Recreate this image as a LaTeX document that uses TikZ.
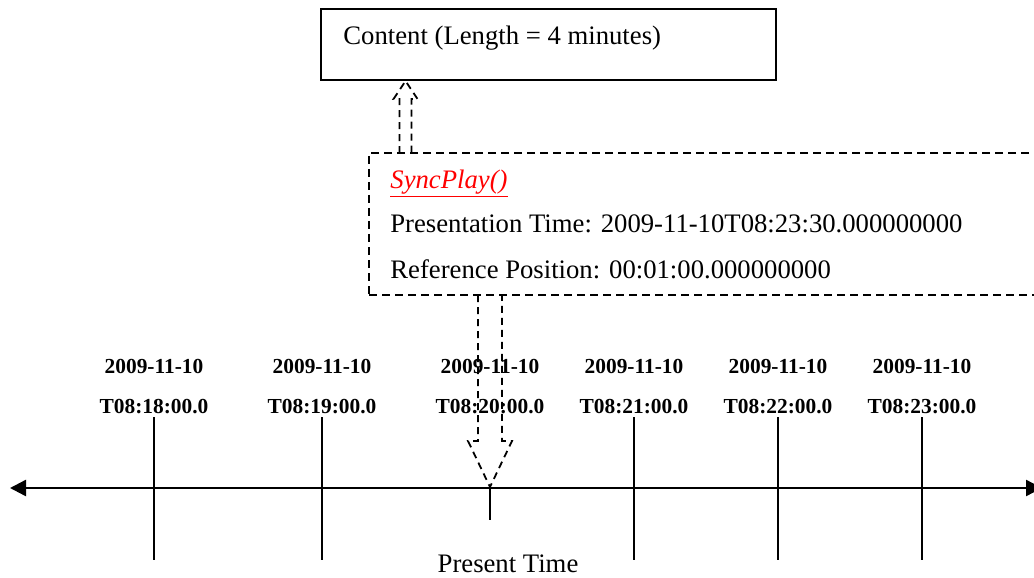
\documentclass[tikz,border=0pt]{standalone}
\usepackage{fontspec}
\setmainfont{Liberation Serif}
\usetikzlibrary{arrows.meta}
\tikzset{
  box/.style={draw, line width=1pt, inner sep=0pt},
  dashbox/.style={draw, line width=0.9pt, dash pattern=on 4pt off 2.5pt, inner sep=0pt},
  hollow/.style={line width=0.9pt, dash pattern=on 3.5pt off 2.5pt},
  tick/.style={line width=0.9pt},
  axis/.style={line width=1.2pt, {Triangle[length=8pt,width=8pt]}-{Triangle[length=8pt,width=8pt]}},
  stamp/.style={anchor=base, inner sep=0pt, font=\fontsize{10.7}{13}\selectfont\bfseries},
  words/.style={anchor=base west, inner sep=0pt, font=\fontsize{13.35}{16}\selectfont}
}
\newcommand{\tlmark}[3] {\node at (#1,373) (#2d) [stamp] {2009-11-10};
  \node at (#1,413) (#2t) [stamp] {T08:#3};}
\newcommand{\tltick}[4] {\coordinate (#2top) at (#1,#3); \coordinate (#2bot) at (#1,#4);
  \draw [tick] (#2top) -- (#2bot);}
\newcommand{\tltext}[3] {\node at (#1) (#2) [words] {#3};}

\begin{document}
\begin{tikzpicture}[x=0.5pt, y=-0.5pt]
\useasboundingbox (0,0) rectangle (1034,578);
\clip (0,0) rectangle (1034,578);

% content and call boxes
\node at (548.5,44.5) (content) [box, minimum width=227.5pt, minimum height=35.5pt] {};
\tltext {343,44} {contentlabel} {Content (Length = 4 minutes)};
\node at (719.5,224) (sync) [dashbox, minimum width=350.5pt, minimum height=71pt] {};
\tltext {390,188} {synclabel} {\color{red}\underline{\textit{SyncPlay()}}};
\tltext {390,232} {presentation} {Presentation Time: 2009-11-10T08:23:30.000000000};
\tltext {390,278} {reference} {Reference Position: 00:01:00.000000000};

% time line
\coordinate (past) at (10,488);
\coordinate (future) at (1042,488);
\draw [axis] (past) -- (future);
\tlmark {154} {m18} {18:00.0};
\tlmark {322} {m19} {19:00.0};
\tlmark {490} {m20} {20:00.0};
\tlmark {634} {m21} {21:00.0};
\tlmark {778} {m22} {22:00.0};
\tlmark {922} {m23} {23:00.0};
\tltick {154} {m18} {417} {560};
\tltick {322} {m19} {417} {560};
\tltick {490} {m20} {488} {520};
\tltick {634} {m21} {417} {560};
\tltick {778} {m22} {417} {560};
\tltick {922} {m23} {417} {560};
\node at (508,572) (present) [words, anchor=base] {Present Time};

% hollow arrows
\coordinate (upfoot) at (405.5,153);
\draw [hollow] (upfoot) ++(-6,0) -- ++(0,-54) -- ++(-6,0) -- ++(12,-18) -- ++(12,18) -- ++(-6,0) -- ++(0,54);
\coordinate (dnfoot) at (490,295);
\draw [hollow] (dnfoot) ++(-12,0) -- ++(0,146) -- ++(-10,0) -- ++(22,46) -- ++(22,-46) -- ++(-10,0) -- ++(0,-146);
\end{tikzpicture}
\end{document}
